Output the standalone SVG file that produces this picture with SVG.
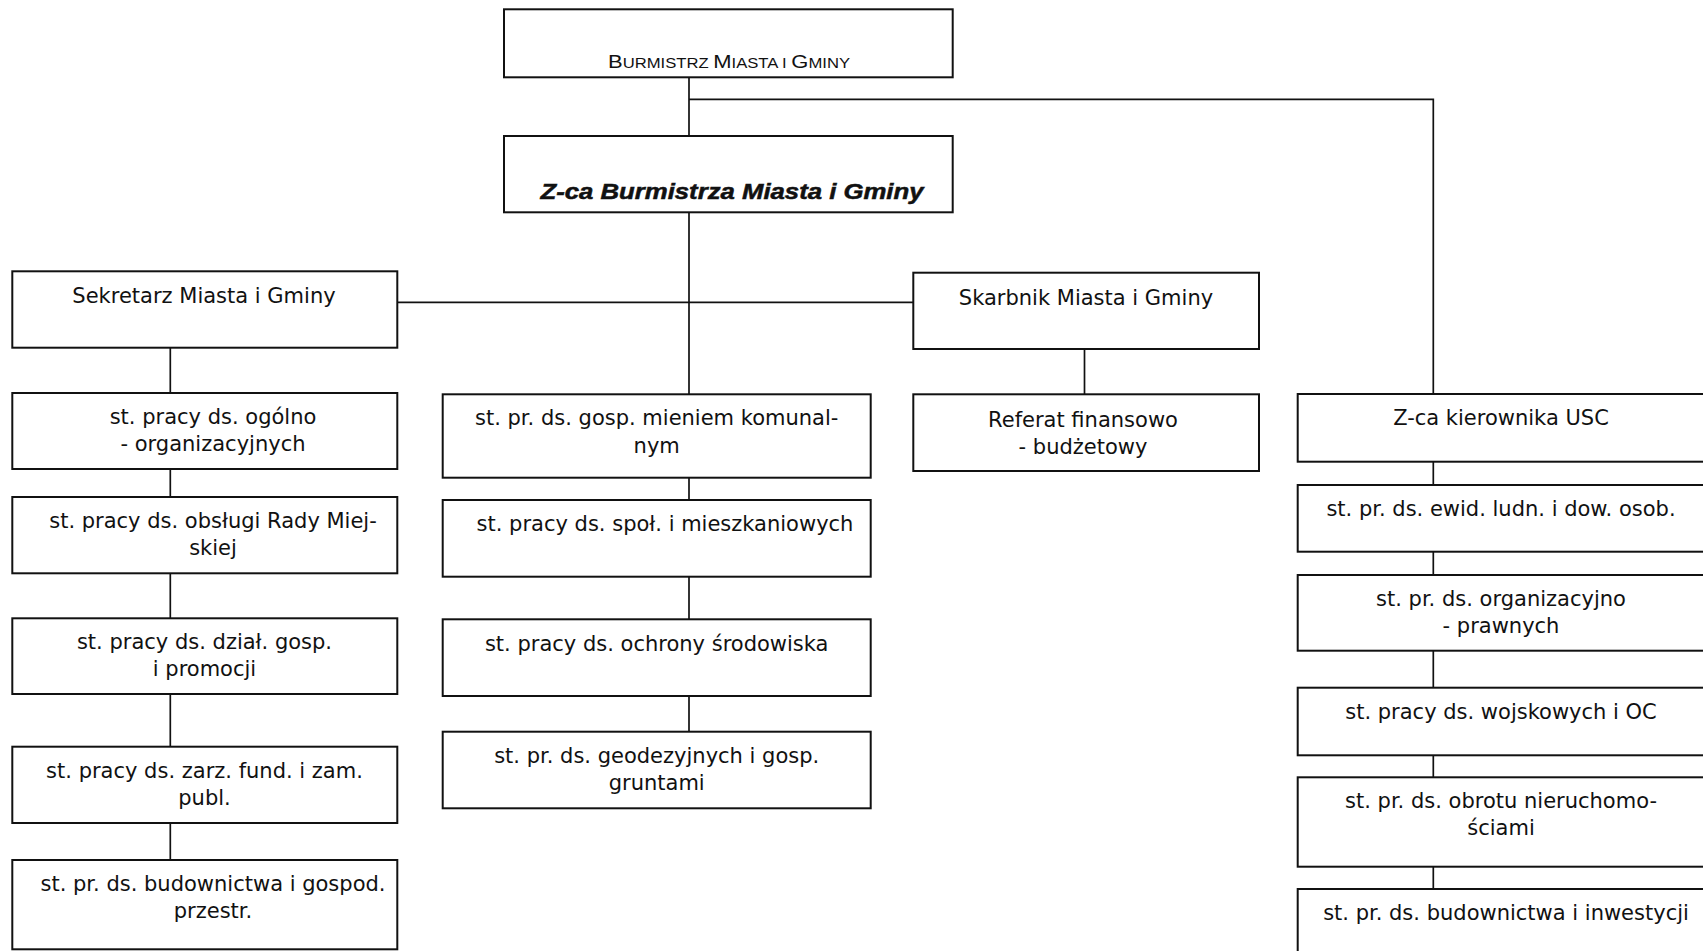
<svg xmlns="http://www.w3.org/2000/svg" width="1703" height="951" viewBox="0 0 1703 951">
<style>
.box{fill:#fff;stroke:#111;stroke-width:2}
.con{fill:none;stroke:#111;stroke-width:1.7}
.t{font-family:"DejaVu Sans",sans-serif;font-size:21px;fill:#111;text-anchor:middle}
.cap{font-family:"Liberation Sans",Arial,sans-serif;fill:#111;text-anchor:middle}
.bi{font-family:"Liberation Sans",Arial,sans-serif;font-size:21.5px;font-weight:bold;font-style:italic;fill:#111;stroke:#111;stroke-width:0.5;text-anchor:middle}
</style>
<rect width="1703" height="951" fill="#fff"/>
<g id="connectors">
<path class="con" d="M689,77 V394"/>
<path class="con" d="M689,99.3 H1433.3 V394"/>
<path class="con" d="M689,477 V732"/>
<path class="con" d="M397.3,302.3 H913.3"/>
<path class="con" d="M170.3,347.7 V860"/>
<path class="con" d="M1084.5,349 V394.3"/>
<path class="con" d="M1433.3,461.7 V889"/>
</g>
<g id="burmistrz">
<rect class="box" x="504" y="9.3" width="448.7" height="68"/>
<text class="cap" x="729" y="67.7" textLength="242" lengthAdjust="spacingAndGlyphs"><tspan font-size="18.5">B</tspan><tspan font-size="14">URMISTRZ </tspan><tspan font-size="18.5">M</tspan><tspan font-size="14">IASTA I </tspan><tspan font-size="18.5">G</tspan><tspan font-size="14">MINY</tspan></text>
</g>
<g id="zca-burmistrza">
<rect class="box" x="504" y="136" width="448.7" height="76.3"/>
<text class="bi" x="732" y="199" textLength="383" lengthAdjust="spacingAndGlyphs">Z-ca Burmistrza Miasta i Gminy</text>
</g>
<g id="sekretarz">
<rect class="box" x="12.3" y="271.3" width="385" height="76.4"/>
<text class="t" x="204" y="302.7">Sekretarz Miasta i Gminy</text>
</g>
<g id="skarbnik">
<rect class="box" x="913.3" y="272.7" width="345.7" height="76.3"/>
<text class="t" x="1086" y="305">Skarbnik Miasta i Gminy</text>
</g>
<g id="referat">
<rect class="box" x="913.3" y="394.3" width="345.7" height="76.7"/>
<text class="t" x="1083" y="426.7">Referat finansowo</text>
<text class="t" x="1083" y="454.3">- budżetowy</text>
</g>
<g id="l1">
<rect class="box" x="12.3" y="393" width="385" height="76"/>
<text class="t" x="213" y="424">st. pracy ds. ogólno</text>
<text class="t" x="213" y="451">- organizacyjnych</text>
</g>
<g id="l2">
<rect class="box" x="12.3" y="497" width="385" height="76.3"/>
<text class="t" x="213" y="528.3">st. pracy ds. obsługi Rady Miej-</text>
<text class="t" x="213" y="555">skiej</text>
</g>
<g id="l3">
<rect class="box" x="12.3" y="618.3" width="385" height="75.7"/>
<text class="t" x="204.5" y="649.3">st. pracy ds. dział. gosp.</text>
<text class="t" x="204.5" y="676.3">i promocji</text>
</g>
<g id="l4">
<rect class="box" x="12.3" y="746.7" width="385" height="76.3"/>
<text class="t" x="204.5" y="777.7">st. pracy ds. zarz. fund. i zam.</text>
<text class="t" x="204.5" y="804.7">publ.</text>
</g>
<g id="l5">
<rect class="box" x="12.3" y="860" width="385" height="89.3"/>
<text class="t" x="213" y="891">st. pr. ds. budownictwa i gospod.</text>
<text class="t" x="213" y="918">przestr.</text>
</g>
<g id="m1">
<rect class="box" x="442.7" y="394.3" width="428" height="83.4"/>
<text class="t" x="656.7" y="425">st. pr. ds. gosp. mieniem komunal-</text>
<text class="t" x="656.7" y="452.7">nym</text>
</g>
<g id="m2">
<rect class="box" x="442.7" y="500" width="428" height="76.7"/>
<text class="t" x="665" y="531">st. pracy ds. społ. i mieszkaniowych</text>
</g>
<g id="m3">
<rect class="box" x="442.7" y="619.3" width="428" height="76.7"/>
<text class="t" x="656.7" y="650.7">st. pracy ds. ochrony środowiska</text>
</g>
<g id="m4">
<rect class="box" x="442.7" y="731.7" width="428" height="76.6"/>
<text class="t" x="656.7" y="763.3">st. pr. ds. geodezyjnych i gosp.</text>
<text class="t" x="656.7" y="790">gruntami</text>
</g>
<g id="r1">
<rect class="box" x="1297.7" y="394" width="410" height="67.7"/>
<text class="t" x="1501" y="425">Z-ca kierownika USC</text>
</g>
<g id="r2">
<rect class="box" x="1297.7" y="485" width="410" height="66.7"/>
<text class="t" x="1501" y="515.7">st. pr. ds. ewid. ludn. i dow. osob.</text>
</g>
<g id="r3">
<rect class="box" x="1297.7" y="575" width="410" height="75.7"/>
<text class="t" x="1501" y="606">st. pr. ds. organizacyjno</text>
<text class="t" x="1501" y="632.7">- prawnych</text>
</g>
<g id="r4">
<rect class="box" x="1297.7" y="687.7" width="410" height="67.6"/>
<text class="t" x="1501" y="719">st. pracy ds. wojskowych i OC</text>
</g>
<g id="r5">
<rect class="box" x="1297.7" y="777.3" width="410" height="89.4"/>
<text class="t" x="1501" y="808.3">st. pr. ds. obrotu nieruchomo-</text>
<text class="t" x="1501" y="835">ściami</text>
</g>
<g id="r6">
<rect class="box" x="1297.7" y="889" width="410" height="75"/>
<text class="t" x="1506" y="920">st. pr. ds. budownictwa i inwestycji</text>
</g>
</svg>
